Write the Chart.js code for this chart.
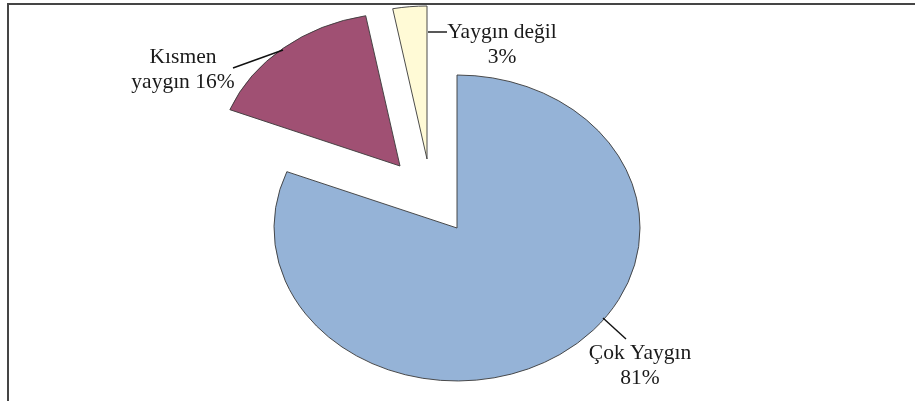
<!DOCTYPE html>
<html>
<head>
<meta charset="utf-8">
<script src="https://cdn.jsdelivr.net/npm/chart.js@4.4.0/dist/chart.umd.min.js"></script>
<style>
  html, body { margin: 0; padding: 0; background: #fff; }
  #wrap { width: 915px; height: 401px; }
</style>
</head>
<body>
<div id="wrap"><canvas id="pieChart" width="915" height="401"></canvas></div>
<script>
// data
const categories = ['Çok Yaygın', 'Kısmen yaygın', 'Yaygın değil'];
const values = [81, 16, 3];
const colors = ['#95B3D7', '#A05073', '#FFFAD6'];

// pie is drawn flattened, exploded slices are shifted on screen
const ellipsePie = {
  id: 'ellipsePie',
  beforeDraw(chart) {
    const ctx = chart.ctx;
    ctx.save();
    ctx.strokeStyle = '#454545';
    ctx.lineWidth = 2;
    ctx.beginPath();
    ctx.moveTo(8, 401);
    ctx.lineTo(8, 4);
    ctx.lineTo(915, 4);
    ctx.stroke();
    ctx.restore();
  },
  beforeDatasetsDraw(chart, args, opts) {
    const ctx = chart.ctx;
    const meta = chart.getDatasetMeta(0);
    meta.data.forEach((arc, i) => {
      const s = opts.shift[i];
      ctx.save();
      ctx.translate(arc.x + s[0], arc.y + s[1]);
      ctx.scale(1, opts.squash);
      ctx.translate(-arc.x, -arc.y);
      arc.draw(ctx);
      ctx.restore();
    });
    return false;
  },
  afterDraw(chart, args, opts) {
    const ctx = chart.ctx;
    ctx.save();
    ctx.strokeStyle = '#111';
    ctx.lineWidth = 1.4;
    opts.leaders.forEach(l => {
      ctx.beginPath();
      ctx.moveTo(l[0], l[1]);
      ctx.lineTo(l[2], l[3]);
      ctx.stroke();
    });
    ctx.fillStyle = '#1a1a1a';
    ctx.font = '21.5px "Liberation Serif", "Times New Roman", serif';
    ctx.textAlign = 'center';
    ctx.textBaseline = 'middle';
    const total = values.reduce((a, b) => a + b, 0);
    categories.forEach((c, i) => {
      const words = (c + ' ' + Math.round(values[i] / total * 100) + '%').split(' ');
      const n = opts.breakAt[i];
      const p = opts.labelPos[i];
      ctx.fillText(words.slice(0, n).join(' '), p[0], p[1]);
      ctx.fillText(words.slice(n).join(' '), p[0], p[1] + 25);
    });
    ctx.restore();
  }
};

new Chart(document.getElementById('pieChart').getContext('2d'), {
  type: 'pie',
  data: {
    labels: categories,
    datasets: [{
      data: values,
      backgroundColor: colors,
      borderColor: '#3c3c3c',
      borderWidth: 1
    }]
  },
  options: {
    responsive: false,
    animation: false,
    radius: 183,
    layout: {
      padding: { top: 55, right: 1, left: 0, bottom: 0 }
    },
    plugins: {
      legend: { display: false },
      tooltip: { enabled: false },
      ellipsePie: {
        squash: 0.836,
        shift: [[0, 0], [-57, -62], [-30, -69]],
        breakAt: [2, 1, 2],
        labelPos: [[640, 353], [183, 57], [502, 32]],
        leaders: [[603, 318, 626, 339], [233, 68, 283, 50], [428, 32, 447, 32]]
      }
    }
  },
  plugins: [ellipsePie]
});
</script>
</body>
</html>
